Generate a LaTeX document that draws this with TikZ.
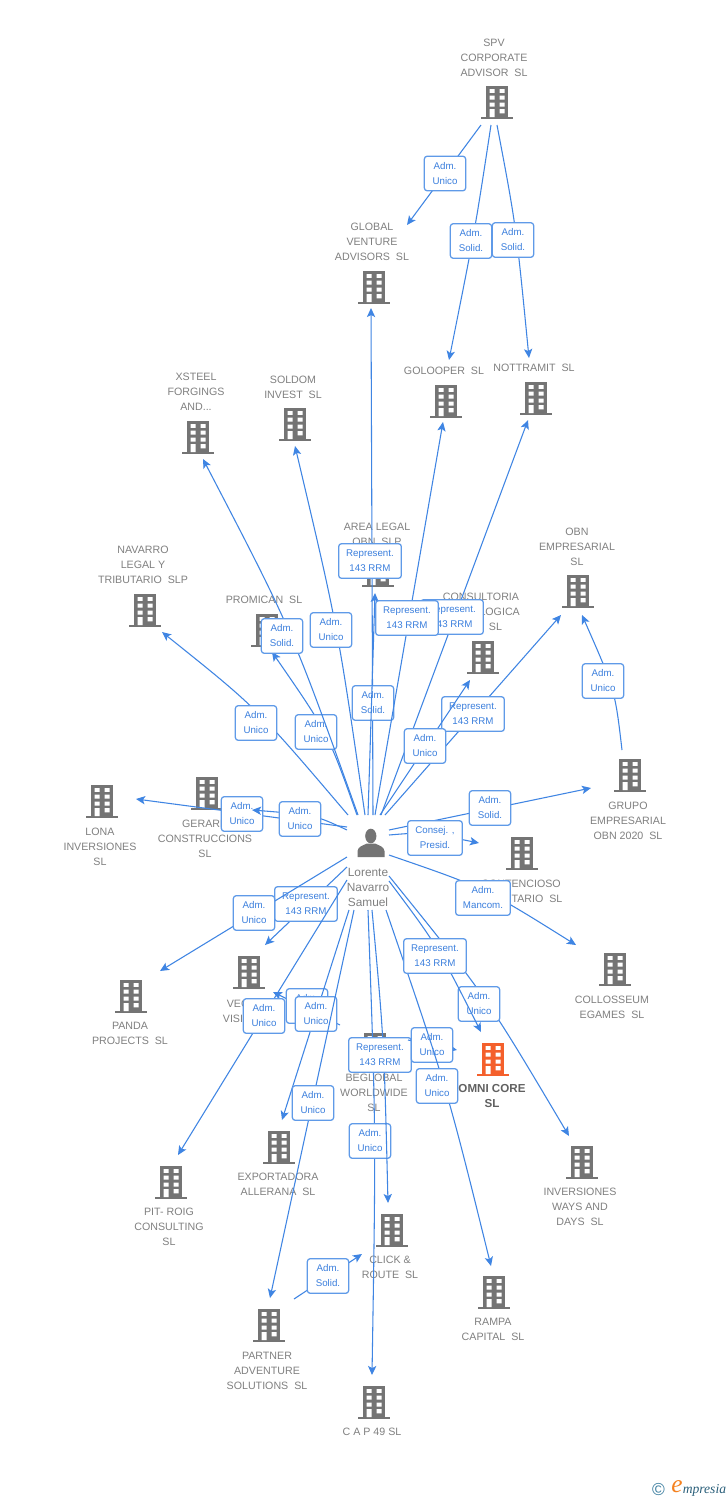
\documentclass[tikz,border=0pt]{standalone}
\usepackage{fontspec}
\setmainfont{Liberation Sans}
\newfontfamily\logofont{Liberation Serif}
\usetikzlibrary{arrows.meta}
\definecolor{lnblue}{HTML}{3F85E3}
\definecolor{bxblue}{HTML}{5F9AE8}
\definecolor{txblue}{HTML}{3B7FDD}
\definecolor{txgray}{HTML}{808080}
\definecolor{icgray}{HTML}{747474}
\definecolor{icorange}{HTML}{F4602C}
\definecolor{logoteal}{HTML}{3A7D9F}
\definecolor{logodark}{HTML}{2A5F7A}
\definecolor{logoorange}{HTML}{F58220}
\tikzset{
  conn/.style={draw=lnblue,line width=0.8pt,-{Stealth[length=6.8pt,width=6.2pt,inset=1.6pt]}},
  lbl/.style={draw=bxblue,line width=0.95pt,fill=white,rounded corners=2.2pt,align=center,text=txblue,yshift=-0.75pt,
     font=\fontsize{7.3}{11.25}\selectfont,minimum width=31pt,minimum height=26pt,inner sep=0pt},
  lblw/.style={lbl,minimum width=47pt},
  lblm/.style={lbl,minimum width=41pt},
  txt/.style={align=center,text=txgray,yshift=-0.75pt,font=\fontsize{8}{11.25}\selectfont,inner sep=0pt},
  ptxt/.style={txt,font=\fontsize{8.9}{11.25}\selectfont},
  otxt/.style={txt,text=black!62,font=\fontsize{8.7}{11.25}\selectfont\bfseries},
  bnode/.style={minimum width=24pt,minimum height=25pt,inner sep=0pt},
}
\newcommand\bld[5][icgray]{%
  \node[bnode] (#2) at (#3) {};
  \begin{scope}[shift={(#3)}]
    \fill[#1] (-11,-16.5) rectangle (11,15);
    \fill[#1] (-16,14.5) rectangle (16,17);
    \fill[white] (-7.5,-13) rectangle (-2.5,-9.2) (2.5,-13) rectangle (7.5,-9.2)
                 (-7.5,-6.3) rectangle (-2.5,-2.5) (2.5,-6.3) rectangle (7.5,-2.5)
                 (-7.5,0.5) rectangle (-2.5,4.5) (2.5,0.5) rectangle (7.5,4.5)
                 (-7.5,7.2) rectangle (-2.5,15) (2.5,7.2) rectangle (7.5,11.3);
  \end{scope}
  \node[txt] (#2t) at (#4) {#5};
}
\newcommand\lnk[3]{%
  \coordinate (s#1) at (#2);
  \coordinate (e#1) at (#3);
  \draw[conn] (s#1) -- (e#1);
}
\newcommand\crv[4]{%
  \coordinate (s#1) at (#2);
  \coordinate (c#1) at (#3);
  \coordinate (e#1) at (#4);
  \draw[conn] (s#1) .. controls (c#1) .. (e#1);
}
\newcommand\lb[4][lbl]{\node[#1] (#2) at (#3) {#4};}
\begin{document}
\begin{tikzpicture}[x=0.75pt,y=-0.75pt]
\useasboundingbox (0,0) rectangle (728,1500);
\fill[white] (0,0) rectangle (728,1500);

% entities
\bld{spv}{497,102}{494,57}{SPV\\CORPORATE\\ADVISOR~ SL}
\bld{glo}{374,287}{372,241}{GLOBAL\\VENTURE\\ADVISORS~ SL}
\bld{goo}{446,401}{444,370}{GOLOOPER~ SL}
\bld{not}{536,398}{534,367}{NOTTRAMIT~ SL}
\bld{xst}{198,437}{196,391}{XSTEEL\\FORGINGS\\AND...}
\bld{sol}{295,424}{293,386}{SOLDOM\\INVEST~ SL}
\bld{are}{378,570}{377,533}{AREA LEGAL\\OBN~ SLP}
\bld{nav}{145,610}{143,564}{NAVARRO\\LEGAL Y\\TRIBUTARIO~ SLP}
\bld{pro}{267,630}{264,599}{PROMICAN~ SL}
\bld{obn}{578,591}{577,546}{OBN\\EMPRESARIAL\\SL}
\bld{con}{483,657}{481,611}{CONSULTORIA\\TECNOLOGICA\\OBN~ SL}
\bld{gru}{630,775}{628,820}{GRUPO\\EMPRESARIAL\\OBN 2020~ SL}
\bld{lon}{102,801}{100,846}{LONA\\INVERSIONES\\SL}
\bld{ger}{207,793}{205,838}{GERARD\\CONSTRUCCIONS\\SL}
\bld{cot}{522,853}{521,890}{CONTENCIOSO\\TRIBUTARIO~ SL}
\bld{col}{615,969}{612,1006}{COLLOSSEUM\\EGAMES~ SL}
\bld{vec}{249,972}{249,1010}{VECTOR\\VISION SL}
\bld{pan}{131,996}{130,1032}{PANDA\\PROJECTS~ SL}
\bld{beg}{375,1049}{374,1092}{BEGLOBAL\\WORLDWIDE\\SL}
\bld[icorange]{omn}{493,1059}{492,1095}{}
\node[otxt] (omnt2) at (492,1095) {OMNI CORE\\SL};
\bld{inv}{582,1162}{580,1206}{INVERSIONES\\WAYS AND\\DAYS~ SL}
\bld{pit}{171,1182}{169,1226}{PIT- ROIG\\CONSULTING\\SL}
\bld{exp}{279,1147}{278,1183}{EXPORTADORA\\ALLERANA~ SL}
\bld{cli}{392,1230}{390,1266}{CLICK \&\\ROUTE~ SL}
\bld{ram}{494,1292}{493,1328}{RAMPA\\CAPITAL~ SL}
\bld{par}{269,1325}{267,1370}{PARTNER\\ADVENTURE\\SOLUTIONS~ SL}
\bld{cap}{374,1402}{372,1431}{C A P 49 SL}

% person
\node[minimum width=20pt,minimum height=20pt,inner sep=0pt] (per) at (371,843) {};
\fill[icgray] (370.8,836) ellipse (5.6 and 7.3);
\fill[icgray] (357.5,857) -- (357.5,851) .. controls (358,846.5) and (363,845.5) .. (367,843.5)
   -- (375,843.5) .. controls (379,845.5) and (384,846.5) .. (384.5,851) -- (384.5,857) -- cycle;
\node[ptxt] (pert) at (368,886) {Lorente\\Navarro\\Samuel};

% connectors with their labels, in drawing order
\lnk{a1}{481,125}{407,225}
\lb{b1}{445,172.5}{Adm.\\Unico}
\crv{a2}{491,125}{475,230}{449,360}
\lb{b2}{471,240}{Adm.\\Solid.}
\crv{a3}{497,125}{516,225}{529,358}
\lb{b3}{513,239}{Adm.\\Solid.}

\lnk{a4}{373,815}{371,308}
\lb{b4}{373,702}{Adm.\\Solid.}
\lnk{a5}{368,815}{375,593}
\lb[lblw]{b5}{370,560}{Represent.\\143 RRM}
\lnk{a6}{381,815}{528,420}
\lb[lblw]{b6}{452,616}{Represent.\\143 RRM}
\lnk{a7}{375,815}{443,422}
\lb[lblw]{b7}{407,617}{Represent.\\143 RRM}

\crv{a8}{357,815}{328,733}{272,652}
\lb{b8}{316,731}{Adm.\\Unico}
\crv{a9}{358,815}{292,630}{203,459}
\lb{b9}{282,635}{Adm.\\Solid.}
\crv{a10}{365,815}{338,628}{295,446}
\lb{b10}{331,629}{Adm.\\Unico}
\crv{a11}{348,815}{257,708}{162,632}
\lb{b11}{256,722}{Adm.\\Unico}

\lnk{a12}{385,815}{561,615}
\lb[lblw]{b12}{473,713}{Represent.\\143 RRM}
\lnk{a13}{380,815}{470,680}
\lb{b13}{425,745}{Adm.\\Unico}
\crv{a14}{622,750}{615,690}{582,615}
\lb{b14}{603,680}{Adm.\\Unico}

\lnk{a15}{389,830}{591,788}
\lb{b15}{490,807}{Adm.\\Solid.}
\crv{a16}{389,835}{425,832}{479,843}
\lb[lblm]{b16}{435,837}{Consej. ,\\Presid.}
\crv{a17}{389,855}{485,888}{576,945}
\lb[lblm]{b17}{483,897}{Adm.\\Mancom.}

\lnk{a18}{347,827}{136,799}
\lb{b18}{242,813}{Adm.\\Unico}
\crv{a19}{347,830}{315,815}{252,810}
\lb{b19}{300,818}{Adm.\\Unico}

\lnk{a20}{347,867}{265,945}
\lb[lblw]{b20}{306,903}{Represent.\\143 RRM}
\lnk{a21}{347,857}{160,971}
\lb{b21}{254,912}{Adm.\\Unico}

\lnk{a22}{340,1025}{273,992}
\lb{b22}{307,1005}{Adm.\\Unico}
\lnk{a23}{349,910}{282,1120}
\lb{b23}{316,1013}{Adm.\\Unico}
\lnk{a24}{347,880}{178,1155}
\lb{b24}{264,1015}{Adm.\\Unico}
\lnk{a25}{354,910}{270,1298}
\lb{b25}{313,1102}{Adm.\\Unico}

\crv{a26}{368,910}{376,1130}{372,1375}
\lb{b26}{370,1140}{Adm.\\Unico}
\crv{a27}{372,910}{384,1040}{388,1203}
\lb[lblw]{b27}{380,1054}{Represent.\\143 RRM}
\lnk{a28}{408,1040}{457,1050}
\lb{b28}{432,1044}{Adm.\\Unico}
\crv{a29}{386,910}{447,1088}{491,1266}
\lb{b29}{437,1085}{Adm.\\Unico}

\crv{a30}{389,876}{486,996}{569,1136}
\lb{b30}{479,1003}{Adm.\\Unico}
\crv{a31}{389,881}{437,945}{481,1032}
\lb[lblw]{b31}{435,955}{Represent.\\143 RRM}

\lnk{a32}{294,1299}{362,1254}
\lb{b32}{328,1275}{Adm.\\Solid.}

% mark
\node[text=logoteal,font=\fontsize{13}{13}\selectfont,inner sep=0pt] (cpr) at (658.5,1489) {©};
\node[text=logoorange,font=\logofont\itshape\fontsize{19}{19}\selectfont,inner sep=0pt] (elg) at (677,1487) {e};
\node[text=logodark,font=\logofont\itshape\fontsize{10.2}{10}\selectfont,inner sep=0pt,anchor=west] (mpr) at (682.5,1490) {mpresia};
\end{tikzpicture}
\end{document}
